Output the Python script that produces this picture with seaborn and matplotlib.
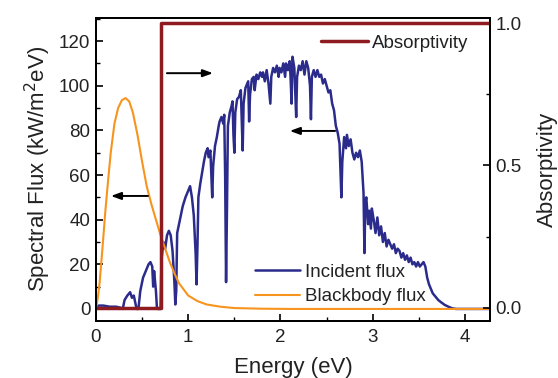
import numpy as np
import pandas as pd
import seaborn as sns
import matplotlib.pyplot as plt

# valeurs
energie_inc = [0.00, 0.03, 0.08, 0.15, 0.22, 0.27, 0.29, 0.31, 0.34, 0.37, 0.39, 0.41, 0.43, 0.44,
               0.46, 0.48, 0.51, 0.54, 0.57, 0.59, 0.61, 0.62, 0.63, 0.65, 0.66, 0.67, 0.70,
               0.71, 0.73, 0.75, 0.77, 0.79, 0.81, 0.83, 0.85, 0.86, 0.87, 0.88, 0.91, 0.94, 0.97,
               1.00, 1.02, 1.04, 1.06, 1.08, 1.09, 1.10, 1.11, 1.13, 1.15, 1.17, 1.19, 1.21, 1.22,
               1.24, 1.25, 1.26, 1.27, 1.29, 1.31, 1.33, 1.34, 1.36, 1.38, 1.39, 1.40, 1.41, 1.42,
               1.43, 1.45, 1.47, 1.48, 1.49, 1.50, 1.51, 1.53, 1.55, 1.57, 1.58, 1.59, 1.60, 1.62,
               1.64, 1.65, 1.66, 1.67, 1.69, 1.71, 1.72, 1.74, 1.76, 1.78, 1.80, 1.81, 1.83, 1.85,
               1.87, 1.89, 1.90, 1.92, 1.94, 1.96, 1.98, 1.99, 2.01, 2.03, 2.05, 2.06, 2.08, 2.10,
               2.11, 2.12, 2.13, 2.15, 2.17, 2.18, 2.20, 2.22, 2.24, 2.26, 2.28, 2.30, 2.32, 2.33,
               2.34, 2.36, 2.38, 2.40, 2.42, 2.44, 2.46, 2.48, 2.50, 2.52, 2.54, 2.56, 2.58, 2.60,
               2.62, 2.64, 2.65, 2.66, 2.67, 2.69, 2.71, 2.72, 2.74, 2.76, 2.78, 2.80, 2.82, 2.84,
               2.86, 2.88, 2.90, 2.91, 2.92, 2.93, 2.95, 2.96, 2.98, 2.99, 3.01, 3.03, 3.05, 3.07,
               3.09, 3.11, 3.13, 3.15, 3.17, 3.19, 3.21, 3.23, 3.25, 3.27, 3.29, 3.31, 3.33, 3.35,
               3.37, 3.39, 3.41, 3.43, 3.45, 3.47, 3.49, 3.51, 3.53, 3.55, 3.57, 3.59, 3.61, 3.63,
               3.65, 3.68, 3.71, 3.74, 3.78, 3.82, 3.86, 3.90, 4.27]
flux_inc = [0.5, 1.5, 1.5, 1.0, 1.0, 0.5, 0, 4, 6, 7.5, 5, 6, 2, 0,
            0, 8, 14, 17, 20, 21, 19, 10, 17, 8, 1, 0, 0,
            22, 30, 27, 33, 35, 33, 26, 12, 2, 8, 34, 40, 46, 50,
            53, 55, 50, 42, 25, 11, 28, 50, 56, 61, 66, 70, 72, 68,
            71, 60, 50, 64, 73, 77, 82, 84, 86, 83, 87, 60, 12, 45,
            82, 88, 91, 93, 78, 70, 88, 94, 95, 98, 85, 71, 92, 99,
            101, 102, 84, 96, 103, 104, 98, 105, 103, 106, 104, 106, 102, 107,
            101, 92, 104, 108, 106, 109, 104, 108, 106, 110, 104, 110, 107, 111,
            103, 92, 113, 108, 86, 104, 109, 107, 111, 105, 111, 108, 100, 85,
            104, 107, 104, 107, 104, 105, 101, 103, 100, 97, 98, 92, 89, 82,
            79, 74, 62, 50, 66, 77, 72, 78, 73, 76, 70, 67, 70, 68,
            71, 66, 52, 25, 48, 50, 38, 44, 36, 45, 40, 34, 41, 33,
            37, 30, 34, 28, 31, 29, 27, 29, 25, 27, 26, 23, 25, 22,
            24, 21, 23, 20, 21, 19, 21, 19, 20, 21, 19, 14, 11, 9,
            7, 5.5, 4, 3, 1.8, 1, 0.3, 0, 0]

energie_cn = [0, 0.02, 0.04, 0.07, 0.10, 0.13, 0.16, 0.20, 0.24, 0.28, 0.32, 0.36, 0.40, 0.45,
              0.50, 0.55, 0.60, 0.65, 0.70, 0.75, 0.80, 0.85, 0.90, 1.00, 1.10, 1.20, 1.35,
              1.50, 1.80, 2.10, 4.27]
flux_cn = [0, 5, 12, 27, 43, 57, 70, 83, 90, 93.5, 94.5, 93, 88, 78,
           66, 55, 47, 40, 33, 27, 21, 16, 11.5, 6, 3.5, 2, 1,
           0.4, 0.1, 0, 0]

energie_abs = [0, 0.70, 0.70, 4.27]
absorptivite = [0, 0, 1, 1]

bleu = '#2b2b8c'
orange = '#f7941e'
rouge = '#8e1b1f'

sns.set_style("ticks")
plt.rcParams['font.family'] = ['Liberation Sans', 'DejaVu Sans']
plt.rcParams['text.color'] = '#222222'

fig = plt.figure(figsize=(5.58, 3.78), dpi=100)
ax = fig.add_axes([0.172, 0.152, 0.706, 0.8])
ax2 = ax.twinx()

df_inc = pd.DataFrame({'E': energie_inc, 'flux': flux_inc})
df_cn = pd.DataFrame({'E': energie_cn, 'flux': flux_cn})
df_abs = pd.DataFrame({'E': energie_abs, 'a': absorptivite})

sns.lineplot(data=df_inc, x='E', y='flux', ax=ax, color=bleu, lw=1.8,
             estimator=None, sort=False, label='Incident flux')
sns.lineplot(data=df_cn, x='E', y='flux', ax=ax, color=orange, lw=1.5,
             estimator=None, sort=False, label='Blackbody flux')
sns.lineplot(data=df_abs, x='E', y='a', ax=ax2, color=rouge, lw=2.5,
             estimator=None, sort=False, label='Absorptivity')

ax.set_xlim(0, 4.27)
ax.set_ylim(-5.2, 130.3)
ax2.set_ylim(-0.045, 1.0175)

ax.set_xticks([0, 1, 2, 3, 4])
ax.set_xticks([0.5, 1.5, 2.5, 3.5], minor=True)
ax.set_yticks(range(0, 121, 20))
ax.set_yticks(range(10, 131, 20), minor=True)
ax2.set_yticks([0.0, 0.5, 1.0])
ax2.set_yticklabels(['0.0', '0.5', '1.0'])
ax2.set_yticks([0.25, 0.75], minor=True)

for a in (ax, ax2):
    a.tick_params(which='major', direction='in', length=5, width=1.2, labelsize=13.5,
                  labelcolor='#222222', color='black')
    a.tick_params(which='minor', direction='in', length=3, width=1.0, color='black')
    for s in a.spines.values():
        s.set_linewidth(1.3)
        s.set_color('black')
ax.tick_params(axis='x', pad=6)
ax.tick_params(axis='y', pad=4)
ax2.tick_params(axis='y', pad=4)

ax.set_xlabel('Energy (eV)', fontsize=16, color='#222222', labelpad=8)
ax.set_ylabel('Spectral Flux (kW/m$^2$eV)', fontsize=16, color='#222222', labelpad=4)
ax2.set_ylabel('Absorptivity', fontsize=16, color='#222222', labelpad=11)

ax.legend(loc='center', bbox_to_anchor=(0.62, 0.12), frameon=False, fontsize=13.5,
          handlelength=2.4, handletextpad=0.3, labelspacing=0.4)
ax2.legend(loc='center', bbox_to_anchor=(0.759, 0.917), frameon=False, fontsize=13.5,
           handlelength=2.5, handletextpad=0.2)

# fleches
fleches = [((0.180, 0.818), (0.297, 0.818)),
           ((0.607, 0.627), (0.492, 0.627)),
           ((0.132, 0.412), (0.038, 0.412))]
for debut, fin in fleches:
    ax2.annotate('', xy=fin, xytext=debut, xycoords='axes fraction',
                 arrowprops=dict(arrowstyle='-|>,head_length=0.6,head_width=0.22',
                                 color='black', lw=1.4, shrinkA=0, shrinkB=0))

plt.savefig('out.png', dpi=100)
